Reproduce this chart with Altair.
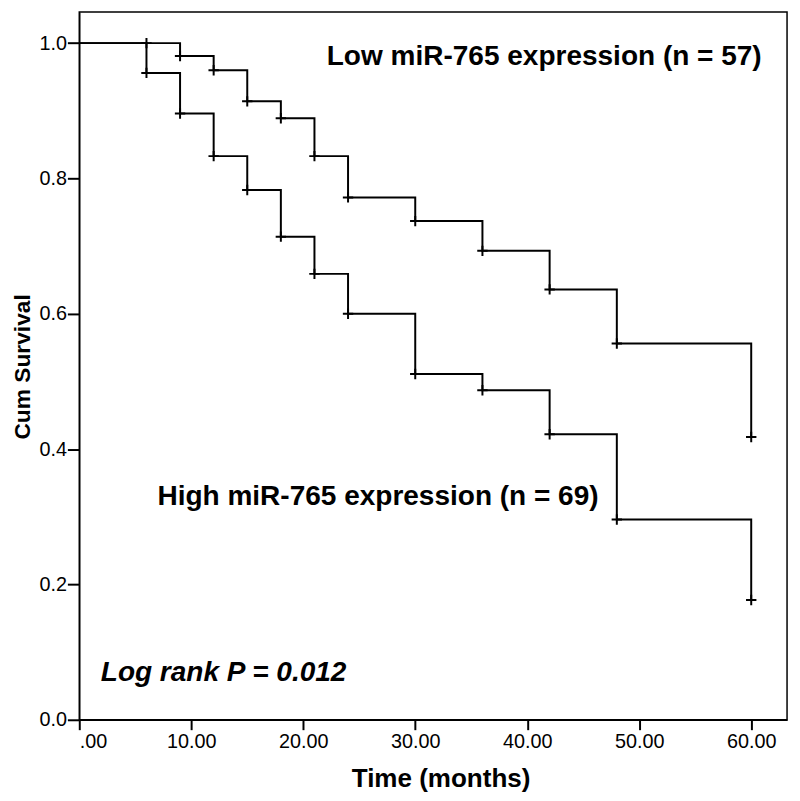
import altair as alt
import pandas as pd

# Kaplan-Meier step data
low_t = [0, 9, 12, 15, 18, 21, 24, 30, 36, 42, 48, 60]
low_s = [1.0, 0.981, 0.960, 0.914, 0.889, 0.833, 0.772, 0.737, 0.693, 0.636, 0.556, 0.418]
high_t = [0, 6, 9, 12, 15, 18, 21, 24, 30, 36, 42, 48, 60]
high_s = [1.0, 0.956, 0.896, 0.833, 0.783, 0.714, 0.659, 0.600, 0.511, 0.487, 0.422, 0.296, 0.177]

# censor marks
low_cens_t = [6, 9, 12, 15, 18, 21, 24, 30, 36, 42, 48, 60]
low_cens_s = [1.0, 0.981, 0.960, 0.914, 0.889, 0.833, 0.772, 0.737, 0.693, 0.636, 0.556, 0.418]
high_cens_t = [6, 9, 12, 15, 18, 21, 24, 30, 36, 42, 48, 60]
high_cens_s = [0.956, 0.896, 0.833, 0.783, 0.714, 0.659, 0.600, 0.511, 0.487, 0.422, 0.296, 0.177]

labels_text = ["Low miR-765 expression (n = 57)", "High miR-765 expression (n = 69)"]
labels_x = [22.1, 6.98]
labels_y = [0.967, 0.318]

pval_text = ["Log rank P = 0.012"]
pval_x = [1.92]
pval_y = [0.0576]

x_ticks = [0, 10, 20, 30, 40, 50, 60]
y_ticks = [0.0, 0.2, 0.4, 0.6, 0.8, 1.0]

FONT = "Liberation Sans, Arial, sans-serif"

curves = pd.DataFrame({
    "t": low_t + high_t,
    "s": low_s + high_s,
    "g": ["Low"] * len(low_t) + ["High"] * len(high_t),
})
cens = pd.DataFrame({
    "t": low_cens_t + high_cens_t,
    "s": low_cens_s + high_cens_s,
})
lab = pd.DataFrame({"text": labels_text, "x": labels_x, "y": labels_y})
pv = pd.DataFrame({"text": pval_text, "x": pval_x, "y": pval_y})

xscale = alt.Scale(domain=[0, 63.2], nice=False, zero=False)
yscale = alt.Scale(domain=[0, 1.046], nice=False, zero=False)

xaxis = alt.Axis(
    values=x_ticks, title="Time (months)", grid=False,
    labelExpr="datum.value == 0 ? '.00' : format(datum.value, '.2f')",
    tickSize=10, tickColor="black", tickWidth=2, domainColor="black", domainWidth=1.5,
    labelFont=FONT, labelFontSize=20, labelColor="black", labelPadding=2,
    titleFont=FONT, titleFontSize=26.3, titleFontWeight="bold", titleColor="black",
    titleX=365, titleY=67, titleBaseline="alphabetic", titleAnchor="middle",
)
yaxis = alt.Axis(
    values=y_ticks, title="Cum Survival", grid=False, format=".1f",
    tickSize=12, tickColor="black", tickWidth=2, domainColor="black", domainWidth=1.5,
    labelFont=FONT, labelFontSize=20, labelColor="black", labelPadding=1,
    titleFont=FONT, titleFontSize=23, titleFontWeight="bold", titleColor="black",
    titleX=-50, titleY=358, titleAngle=270, titleBaseline="alphabetic", titleAlign="center",
)

base = alt.Chart(curves)

lines = base.mark_line(interpolate="step-after", color="black", strokeWidth=2).encode(
    x=alt.X("t:Q", scale=xscale, axis=xaxis),
    y=alt.Y("s:Q", scale=yscale, axis=yaxis),
    detail="g:N",
)

marks = alt.Chart(cens).mark_point(
    shape="M -1 0 L 1 0 M 0 -1 L 0 1", filled=False, color="black", strokeWidth=2, size=110, opacity=1
).encode(x=alt.X("t:Q", scale=xscale), y=alt.Y("s:Q", scale=yscale))

texts = alt.Chart(lab).mark_text(
    align="left", baseline="alphabetic", font=FONT, fontSize=28.3, fontWeight="bold", color="black"
).encode(x=alt.X("x:Q", scale=xscale), y=alt.Y("y:Q", scale=yscale), text="text:N")

ptext = alt.Chart(pv).mark_text(
    align="left", baseline="alphabetic", font=FONT, fontSize=28.3, fontWeight="bold",
    fontStyle="italic", color="black"
).encode(x=alt.X("x:Q", scale=xscale), y=alt.Y("y:Q", scale=yscale), text="text:N")

chart = alt.layer(lines, marks, texts, ptext).properties(
    width=715, height=715,
    autosize=alt.AutoSizeParams(type="none"),
    padding={"left": 72, "top": 0, "right": 5, "bottom": 78},
    background="white",
).configure_view(stroke="black", strokeWidth=1.5)

chart.save("out.html", embed_options={"renderer": "svg", "actions": False})
